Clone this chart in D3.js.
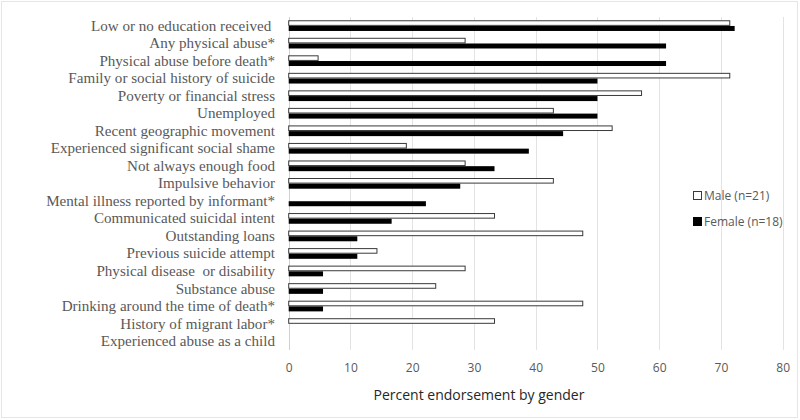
<!DOCTYPE html>
<html><head><meta charset="utf-8">
<script src="https://cdn.jsdelivr.net/npm/d3@7"></script>
<style>
html,body{margin:0;padding:0;background:#fff;}
svg{display:block;}
</style>
</head><body>
<svg id="chart" width="800" height="420"></svg>
<script>
const categories = [
  "Low or no education received ",
  "Any physical abuse*",
  "Physical abuse before death*",
  "Family or social history of suicide",
  "Poverty or financial stress",
  "Unemployed",
  "Recent geographic movement",
  "Experienced significant social shame",
  "Not always enough food",
  "Impulsive behavior",
  "Mental illness reported by informant*",
  "Communicated suicidal intent",
  "Outstanding loans",
  "Previous suicide attempt",
  "Physical disease  or disability",
  "Substance abuse",
  "Drinking around the time of death*",
  "History of migrant labor*",
  "Experienced abuse as a child"
];
const maleValues = [71.43, 28.57, 4.76, 71.43, 57.14, 42.86, 52.38, 19.05, 28.57, 42.86, 0, 33.33, 47.62, 14.29, 28.57, 23.81, 47.62, 33.33, 0];
const femaleValues = [72.22, 61.11, 61.11, 50, 50, 50, 44.44, 38.89, 33.33, 27.78, 22.22, 16.67, 11.11, 11.11, 5.56, 5.56, 5.56, 0, 0];
const xTicks = [0, 10, 20, 30, 40, 50, 60, 70, 80];
const seriesNames = ["Male (n=21)", "Female (n=18)"];

const svg = d3.select("#chart");
// chart border
svg.append("rect").attr("x", 1.5).attr("y", 1.5).attr("width", 796).attr("height", 416)
  .attr("fill", "#fff").attr("stroke", "#e6e6e6").attr("stroke-width", 1);

const plot = {left: 288.7, right: 782.7, top: 17, bottom: 350};
const x = d3.scaleLinear().domain([0, 80]).range([plot.left, plot.right]);
const y = d3.scaleBand().domain(categories).range([plot.top, plot.bottom]).paddingInner(0).paddingOuter(0);
const barH = 4.6;

// gridlines
svg.append("g").selectAll("line").data(xTicks).join("line")
  .attr("x1", d => Math.round(x(d)) + 0.5).attr("x2", d => Math.round(x(d)) + 0.5)
  .attr("y1", plot.top).attr("y2", plot.bottom)
  .attr("stroke", d => d === 0 ? "#d0d0d0" : "#e3e3e3").attr("stroke-width", 1);

// x axis tick labels via d3 axis
const xAxis = d3.axisBottom(x).tickValues(xTicks).tickSize(0).tickPadding(0).tickFormat(d3.format("d"));
const gx = svg.append("g").attr("transform", `translate(0, ${plot.bottom + 13})`).call(xAxis);
gx.select(".domain").remove();
gx.selectAll("text").attr("font-family", "'Open Sans', Carlito, sans-serif").attr("font-size", 12)
  .attr("fill", "#595959").attr("dy", "0.71em");

// category labels
const yAxis = d3.axisLeft(y).tickSize(0).tickPadding(0);
const gy = svg.append("g").attr("transform", `translate(275, 0)`).call(yAxis);
gy.select(".domain").remove();
gy.selectAll("text").attr("font-family", "'Liberation Serif', 'Times New Roman', serif")
  .attr("font-size", 15.1).attr("fill", "#595959").attr("dy", "0.32em")
  .style("white-space", "pre");

const cy = d => y(d) + y.bandwidth() / 2;

// male bars (outlined)
svg.append("g").selectAll("rect").data(categories).join("rect")
  .attr("x", x(0))
  .attr("y", (d) => cy(d) - barH - 0.4)
  .attr("width", (d, i) => Math.max(0, x(maleValues[i]) - x(0)))
  .attr("height", barH)
  .attr("fill", "#fff").attr("stroke", "#3a3a3a").attr("stroke-width", 1)
  .attr("display", (d, i) => maleValues[i] > 0 ? null : "none");

// female bars (solid)
svg.append("g").selectAll("rect").data(categories).join("rect")
  .attr("x", x(0))
  .attr("y", (d) => cy(d) + 0.2)
  .attr("width", (d, i) => Math.max(0, x(femaleValues[i]) - x(0)))
  .attr("height", barH + 0.4)
  .attr("fill", "#000")
  .attr("display", (d, i) => femaleValues[i] > 0 ? null : "none");

// axis title
svg.append("text").attr("x", 479).attr("y", 400).attr("text-anchor", "middle")
  .attr("font-family", "'Open Sans', Carlito, sans-serif").attr("font-size", 14)
  .attr("fill", "#262626").text("Percent endorsement by gender");

// legend
const legend = svg.append("g");
const legY = [196, 222];
legend.selectAll("rect").data(seriesNames).join("rect")
  .attr("x", 693.5).attr("y", (d, i) => legY[i] - 4.5).attr("width", 8).attr("height", 8)
  .attr("fill", (d, i) => i === 0 ? "#fff" : "#000")
  .attr("stroke", (d, i) => i === 0 ? "#3a3a3a" : "#000").attr("stroke-width", 1);
legend.selectAll("text").data(seriesNames).join("text")
  .attr("x", 704).attr("y", (d, i) => legY[i]).attr("dy", "0.35em")
  .attr("font-family", "'Open Sans', Carlito, sans-serif").attr("font-size", 12)
  .attr("fill", "#595959").text(d => d);
</script>
</body></html>
